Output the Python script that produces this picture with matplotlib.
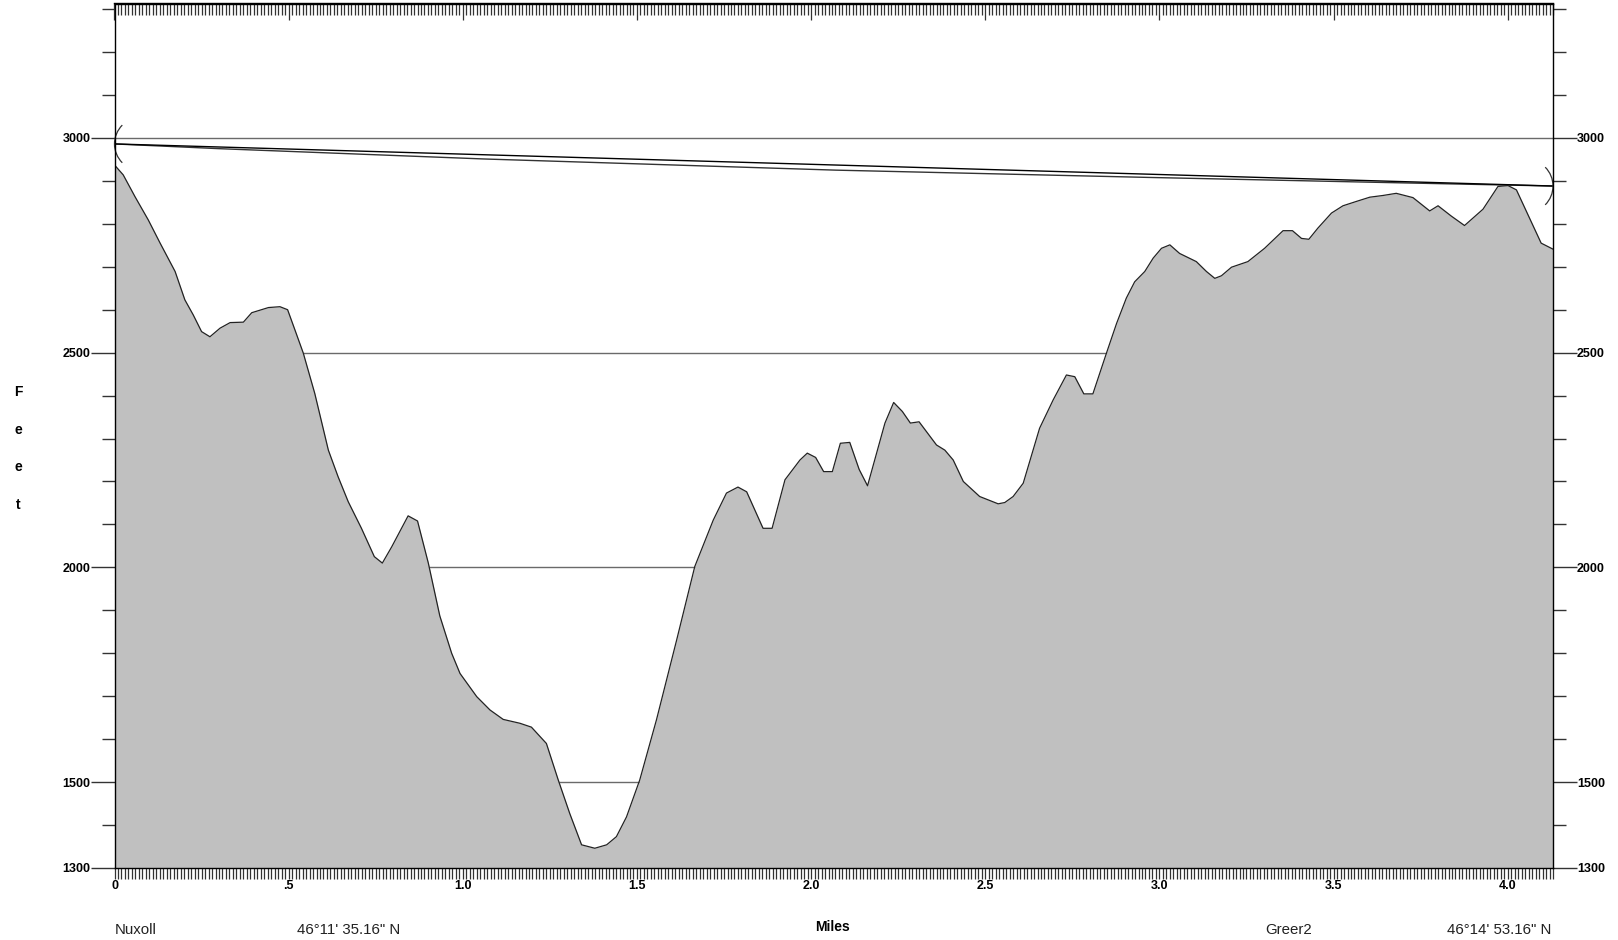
import matplotlib
matplotlib.use("Agg")
import matplotlib.pyplot as plt
from matplotlib.patches import Arc
from matplotlib.ticker import MultipleLocator, FixedLocator
import matplotlib.transforms as mtrans

# terrain profile, miles / feet
dist = [0, 0.025, 0.059, 0.097, 0.131, 0.174, 0.202, 0.226, 0.250, 0.274,
        0.303, 0.332, 0.370, 0.394, 0.442, 0.475, 0.497, 0.518, 0.542, 0.575,
        0.614, 0.642, 0.671, 0.709, 0.746, 0.769, 0.796, 0.843, 0.870, 0.901,
        0.934, 0.968, 0.992, 1.040, 1.078, 1.116, 1.164, 1.197, 1.240, 1.274,
        1.307, 1.341, 1.379, 1.413, 1.441, 1.470, 1.508, 1.556, 1.614, 1.666,
        1.719, 1.757, 1.790, 1.815, 1.862, 1.888, 1.925, 1.968, 1.989, 2.013,
        2.036, 2.061, 2.084, 2.111, 2.138, 2.162, 2.212, 2.237, 2.262, 2.285,
        2.310, 2.360, 2.384, 2.408, 2.437, 2.484, 2.537, 2.556, 2.580, 2.609,
        2.656, 2.695, 2.733, 2.757, 2.783, 2.809, 2.848, 2.877, 2.905, 2.929,
        2.958, 2.982, 3.006, 3.030, 3.058, 3.106, 3.135, 3.159, 3.178, 3.207,
        3.254, 3.302, 3.355, 3.382, 3.408, 3.429, 3.455, 3.494, 3.527, 3.565,
        3.604, 3.642, 3.680, 3.728, 3.776, 3.800, 3.838, 3.876, 3.929, 3.972,
        4.001, 4.025, 4.096, 4.130]
elev = [2937, 2914, 2863, 2809, 2755, 2689, 2623, 2588, 2549, 2537,
        2557, 2570, 2571, 2593, 2605, 2607, 2600, 2553, 2499, 2405,
        2273, 2211, 2153, 2091, 2025, 2010, 2048, 2120, 2108, 2010,
        1887, 1800, 1753, 1699, 1668, 1646, 1637, 1628, 1590, 1505,
        1427, 1354, 1346, 1354, 1373, 1419, 1505, 1645, 1831, 2002,
        2110, 2173, 2187, 2176, 2091, 2091, 2204, 2250, 2266, 2256,
        2223, 2223, 2289, 2291, 2228, 2190, 2336, 2384, 2363, 2336,
        2339, 2285, 2273, 2250, 2200, 2165, 2148, 2151, 2165, 2196,
        2324, 2390, 2448, 2444, 2404, 2404, 2499, 2568, 2627, 2665,
        2689, 2720, 2743, 2751, 2731, 2712, 2689, 2673, 2679, 2699,
        2712, 2743, 2784, 2784, 2766, 2764, 2790, 2825, 2842, 2852,
        2862, 2866, 2871, 2861, 2830, 2842, 2818, 2796, 2834, 2887,
        2889, 2879, 2755, 2741]

# line of sight between the two ends
sight_dist = [0, 4.13]
sight_elev = [2986, 2888]
# second (curved) path line
path_dist = [0, 0.3, 1.06, 2.07, 2.97, 3.6, 4.13]
path_elev = [2986, 2975, 2951, 2925, 2908, 2897, 2888]

grid_levels = [1500, 2000, 2500, 3000]
y_labeled = [1300, 1500, 2000, 2500, 3000]
x_major = [0, 0.5, 1.0, 1.5, 2.0, 2.5, 3.0, 3.5, 4.0]
x_labels = ["0", ".5", "1.0", "1.5", "2.0", "2.5", "3.0", "3.5", "4.0"]

plt.rcParams["font.family"] = ["Liberation Sans", "DejaVu Sans"]

fig = plt.figure(figsize=(16.18, 9.40), dpi=100)
ax = fig.add_axes([114.5 / 1618, 1 - 868 / 940, (1553 - 114.5) / 1618, (868 - 3.5) / 940])
ax.set_xlim(0, 4.13)
ax.set_ylim(1300, 3313)

for g in grid_levels:
    ax.axhline(g, color="#6a6a6a", lw=1.0, zorder=1)

ax.fill_between(dist, elev, 1300, color="#c0c0c0", lw=0, zorder=2)
ax.plot(dist, elev, color="#222222", lw=0.9, zorder=3)

ax.plot(path_dist, path_elev, color="#333333", lw=1.0, zorder=4)
ax.plot(sight_dist, sight_elev, color="black", lw=1.0, zorder=5)

# little "(" and ")" brackets at the antenna ends
r = 0.266
for xd, yd, cx, t1, t2 in [(sight_dist[0], sight_elev[0], r, 135, 225),
                           (sight_dist[-1], sight_elev[-1], -r, -45, 45)]:
    tr = fig.dpi_scale_trans + mtrans.ScaledTranslation(xd, yd, ax.transData)
    ax.add_patch(Arc((cx, 0), 2 * r, 2 * r, theta1=t1, theta2=t2, transform=tr,
                     color="#333333", lw=0.9, clip_on=False, zorder=6))

for sp in ax.spines.values():
    sp.set_linewidth(1.0)
    sp.set_zorder(7)

# y axis: both sides
ax.yaxis.set_major_locator(FixedLocator(y_labeled))
ax.yaxis.set_minor_locator(MultipleLocator(100))
ax.tick_params(axis="y", which="both", left=True, right=True,
               labelleft=True, labelright=True, direction="out",
               color="#333333", width=1.0, pad=0)
ax.tick_params(axis="y", which="major", length=17.3, labelsize=9)
ax.tick_params(axis="y", which="minor", length=9.2)
for lab in ax.get_yticklabels():
    lab.set_fontweight("bold")

# x axis bottom: ticks pointing down
ax.xaxis.set_major_locator(FixedLocator(x_major))
ax.xaxis.set_minor_locator(MultipleLocator(0.01))
ax.set_xticklabels(x_labels, fontweight="bold", fontsize=9)
ax.tick_params(axis="x", which="both", bottom=True, top=False, direction="out",
               length=7.9, width=0.9, color="#333333", pad=1)

# top ticks pointing inward
top = ax.secondary_xaxis("top")
top.xaxis.set_major_locator(FixedLocator(x_major))
top.xaxis.set_minor_locator(MultipleLocator(0.01))
top.tick_params(which="both", direction="in", width=0.9, color="#333333", labeltop=False)
top.tick_params(which="major", length=12.2)
top.tick_params(which="minor", length=8.8)
top.spines["top"].set_linewidth(1.0)

# axis titles and footer
for i, ch in enumerate("Feet"):
    fig.text(18 / 1618, 1 - (392 + 37.7 * i) / 940, ch, ha="center", va="center",
             fontsize=10, fontweight="bold")
fig.text(833 / 1618, 1 - 927 / 940, "Miles", ha="center", va="center",
         fontsize=10, fontweight="bold")
fig.text(115 / 1618, 1 - 930 / 940, "Nuxoll", ha="left", va="center",
         fontsize=10.8, color="#222222")
fig.text(297 / 1618, 1 - 930 / 940, "46°11' 35.16\" N", ha="left", va="center",
         fontsize=10.8, color="#222222")
fig.text(1265 / 1618, 1 - 930 / 940, "Greer2", ha="left", va="center",
         fontsize=10.8, color="#222222")
fig.text(1447 / 1618, 1 - 930 / 940, "46°14' 53.16\" N", ha="left", va="center",
         fontsize=10.8, color="#222222")

fig.savefig("out.png", dpi=100)
